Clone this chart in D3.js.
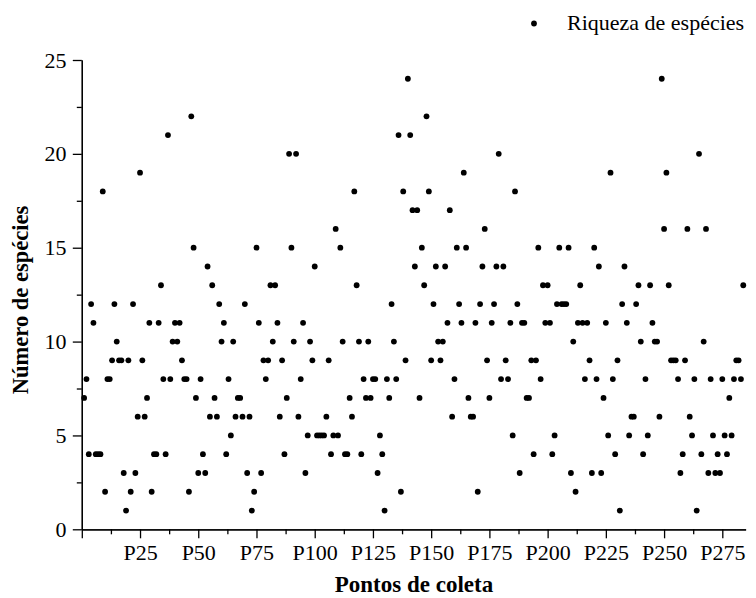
<!DOCTYPE html>
<html>
<head>
<meta charset="utf-8">
<script src="https://cdn.jsdelivr.net/npm/d3@7"></script>
<style>
  body{margin:0;background:#fff;}
  svg text{font-family:"Liberation Serif","Times New Roman",serif;fill:#000;}
  .axis path,.axis line{stroke:#000;stroke-width:1.3;}
</style>
</head>
<body>
<script>
// riqueza de especies por ponto de coleta (P1 ... P284)
var riqueza = [
  7,8,4,12,11,4,4,4,18,2,8,8,9,12,10,9,9,3,1,9,2,12,3,6,19,
  9,6,7,11,2,4,4,11,13,8,4,21,8,10,11,10,11,9,8,8,2,22,15,7,3,
  8,4,3,14,6,13,7,6,12,10,11,4,8,5,10,6,7,7,6,12,3,6,1,2,15,
  11,3,9,8,9,13,10,13,11,6,9,4,7,20,15,10,20,6,8,11,3,5,10,9,14,
  5,5,5,5,6,9,4,5,16,5,15,10,4,4,7,6,18,13,10,4,8,7,10,7,8,
  8,3,5,4,1,8,7,12,10,8,21,2,18,9,24,21,17,14,17,7,15,13,22,18,9,
  12,14,10,9,10,14,11,17,6,8,15,12,11,19,15,7,6,6,11,2,12,14,16,9,7,
  11,12,14,20,8,14,9,8,11,5,18,12,3,11,11,7,7,9,4,9,15,8,13,11,13,
  11,4,5,12,15,12,12,12,15,3,10,2,11,13,11,8,11,9,3,15,8,14,3,7,11,
  5,19,8,4,9,1,12,14,11,5,6,6,12,13,10,4,8,5,13,11,10,10,6,24,16,
  19,13,9,9,9,8,3,4,9,16,6,5,8,1,20,4,10,16,3,8,5,3,4,3,8,
  5,4,7,5,8,9,9,8,13
];

var xTickValues = [25,50,75,100,125,150,175,200,225,250,275];
var xTickLabels = ["P25","P50","P75","P100","P125","P150","P175","P200","P225","P250","P275"];
var yTickValues = [0,5,10,15,20,25];
var yTickLabels = ["0","5","10","15","20","25"];

var width = 756, height = 598;
var x0 = 81.8, x1 = 745.6, yBottom = 529.3, yTop = 60;

var svg = d3.select("body").append("svg")
            .attr("width",width)
            .attr("height",height);

var x = d3.scaleLinear().domain([0,285]).range([x0,x1]);
var y = d3.scaleLinear().domain([0,25]).range([yBottom,yTop]);

// minor ticks sit half way between the major ones
var xMajor = [0].concat(xTickValues);
var xMinor = xMajor.slice(0,-1).map(function(d,i){return (d+xMajor[i+1])/2;});
var yMinor = yTickValues.slice(0,-1).map(function(d,i){return (d+yTickValues[i+1])/2;});

svg.append("g")
   .attr("class","axis")
   .attr("transform","translate(0,"+yBottom+")")
   .call(d3.axisBottom(x).tickValues(xMinor).tickSize(5).tickSizeOuter(0).tickFormat(""));

var xAxis = svg.append("g")
   .attr("class","axis")
   .attr("transform","translate(0,"+yBottom+")")
   .call(d3.axisBottom(x).tickValues(xMajor).tickSize(9).tickSizeOuter(0)
         .tickFormat(function(d,i){ return i==0 ? "" : xTickLabels[i-1]; }));
xAxis.selectAll("text")
   .attr("y",31).attr("dy",0)
   .style("font-size","22px");

svg.append("g")
   .attr("class","axis")
   .attr("transform","translate("+x0+",0)")
   .call(d3.axisLeft(y).tickValues(yMinor).tickSize(5).tickSizeOuter(0).tickFormat(""));

var yAxis = svg.append("g")
   .attr("class","axis")
   .attr("transform","translate("+x0+",0)")
   .call(d3.axisLeft(y).tickValues(yTickValues).tickSize(9).tickSizeOuter(0)
         .tickFormat(function(d,i){ return yTickLabels[i]; }));
yAxis.selectAll("text")
   .attr("x",-15.3)
   .style("font-size","22px");

svg.selectAll("circle.pt")
   .data(riqueza)
   .enter().append("circle")
   .attr("class","pt")
   .attr("cx",function(d,i){ return x(i+1); })
   .attr("cy",function(d){ return y(d); })
   .attr("r",2.9)
   .style("fill","#000");

// axis titles
svg.append("text")
   .attr("x",414).attr("y",592)
   .attr("text-anchor","middle")
   .style("font-size","23px").style("font-weight","bold")
   .text("Pontos de coleta");

svg.append("text")
   .attr("transform","translate(28,300) rotate(-90)")
   .attr("text-anchor","middle")
   .style("font-size","22.5px").style("font-weight","bold")
   .text("Número de espécies");

// legend
svg.append("circle").attr("cx",534).attr("cy",23.5).attr("r",2.9).style("fill","#000");
svg.append("text")
   .attr("x",567).attr("y",30)
   .style("font-size","22px")
   .text("Riqueza de espécies");
</script>
</body>
</html>
